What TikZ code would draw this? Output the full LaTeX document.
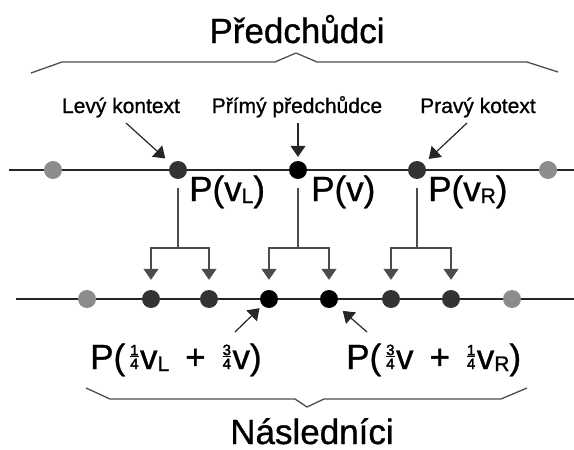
\documentclass[tikz,border=0pt]{standalone}
\usepackage{fontspec}
\newfontfamily\heavy{Liberation Sans}[FakeBold=0.9]
\newfontfamily\fracfont{Liberation Sans}[FakeBold=2.2]
\setmainfont{Liberation Sans}
\usetikzlibrary{arrows.meta}
\newcommand\fr[2]{\hspace{5pt}{\fracfont\fontsize{15}{15}\selectfont\setbox0\vbox{\offinterlineskip\halign{\hfil##\hfil\cr#1\cr\noalign{\kern1.2pt\hrule height1pt\kern1.2pt}#2\cr}}\box0}\hspace{1.5pt}}
\newcommand\sub[1]{\raisebox{-2pt}{\fontsize{21}{21}\selectfont #1}}
\newcommand\pl{\hspace{16pt}+\hspace{12pt}}
\tikzset{
  big/.style={font=\heavy\fontsize{35}{35}\selectfont, inner sep=0pt},
  small/.style={font=\heavy\fontsize{21}{21}\selectfont, inner sep=0pt},
  dotgray/.style={circle, fill=black!45, minimum size=18pt, inner sep=0pt},
  dotdark/.style={circle, fill=black!80, minimum size=18pt, inner sep=0pt},
  dotblack/.style={circle, fill=black, minimum size=18pt, inner sep=0pt},
  axis/.style={draw=black!85, line width=1.4pt},
  conn/.style={draw=black!70, line width=1.2pt},
  arr/.style={draw=black!85, line width=1.2pt, -{Triangle[length=11pt,width=15pt]}},
  bracel/.style={draw=black!70, line width=1.3pt, line join=miter},
}
\begin{document}
\begin{tikzpicture}[x=1pt,y=-1pt]
\useasboundingbox (0,0) rectangle (574,450);
% titles
\node[big, anchor=base] (pred) at (297,43) {Předchůdci};
\node[big, anchor=base] (nasl) at (312,444) {Následníci};
% braces
\draw[bracel] (31,73) -- (62,62) -- (275,62) -- (296,53) -- (317,62) -- (527,62) -- (558,72);
\draw[bracel] (86,388) -- (110,399) -- (295,399) -- (307,407) -- (324,399) -- (501,399) -- (527,388);
% small labels
\node[small, anchor=base] (lk) at (121,113) {Levý kontext};
\node[small, anchor=base] (pp) at (297,113) {Přímý předchůdce};
\node[small, anchor=base] (pk) at (478,113) {Pravý kotext};
% top line
\coordinate (tl) at (9,170);
\coordinate (tr) at (574,170);
\draw[axis] (tl) -- (tr);
\node[dotgray] (t1) at (53,170) {};
\node[dotdark] (t2) at (178,170) {};
\node[dotblack] (t3) at (298,170) {};
\node[dotdark] (t4) at (417,170) {};
\node[dotgray] (t5) at (548,170) {};
% bottom line
\coordinate (bl) at (16,299);
\coordinate (br) at (574,299);
\draw[axis] (bl) -- (br);
\node[dotgray] (b1) at (87,299) {};
\node[dotdark] (b2) at (151,299) {};
\node[dotdark] (b3) at (209,299) {};
\node[dotblack] (b4) at (269,299) {};
\node[dotblack] (b5) at (329,299) {};
\node[dotdark] (b6) at (391,299) {};
\node[dotdark] (b7) at (451,299) {};
\node[dotgray] (b8) at (512,299) {};
% top arrows
\coordinate (a1) at (126,123);
\coordinate (a2) at (298,123);
\coordinate (a3) at (467,123);
\draw[arr, shorten >=8pt] (a1) -- (t2);
\draw[arr, shorten >=4pt] (a2) -- (t3);
\draw[arr, shorten >=7pt] (a3) -- (t4);
% labels of top points
\node[big, anchor=base west] (lvl) at (189,201) {P(v\sub{L})};
\node[big, anchor=base west] (lv) at (311,201) {P(v)};
\node[big, anchor=base west] (lvr) at (428,201) {P(v\sub{R})};
% subdivision trees
\coordinate (j2) at (178,248);
\coordinate (j3) at (298,248);
\coordinate (j4) at (417,248);
\draw[conn, shorten <=9pt] (t2) -- (j2);
\draw[conn, shorten <=9pt] (t3) -- (j3);
\draw[conn, shorten <=9pt] (t4) -- (j4);
\draw[arr, draw=black!70, shorten >=10pt] (j2) -| (b2);
\draw[arr, draw=black!70, shorten >=10pt] (j2) -| (b3);
\draw[arr, draw=black!70, shorten >=10pt] (j3) -| (b4);
\draw[arr, draw=black!70, shorten >=10pt] (j3) -| (b5);
\draw[arr, draw=black!70, shorten >=10pt] (j4) -| (b6);
\draw[arr, draw=black!70, shorten >=10pt] (j4) -| (b7);
% bottom arrows
\coordinate (c1) at (235,332);
\coordinate (c2) at (367,332);
\draw[arr, shorten >=4pt] (c1) -- (b4);
\draw[arr, shorten >=9pt] (c2) -- (b5);
% bottom labels
\node[big, anchor=base west] (ql) at (90,369) {P(\fr{1}{4}v\sub{L}\pl\fr{3}{4}v)};
\node[big, anchor=base west] (qr) at (346,369) {P(\fr{3}{4}v\pl\fr{1}{4}v\sub{R})};
\end{tikzpicture}
\end{document}
